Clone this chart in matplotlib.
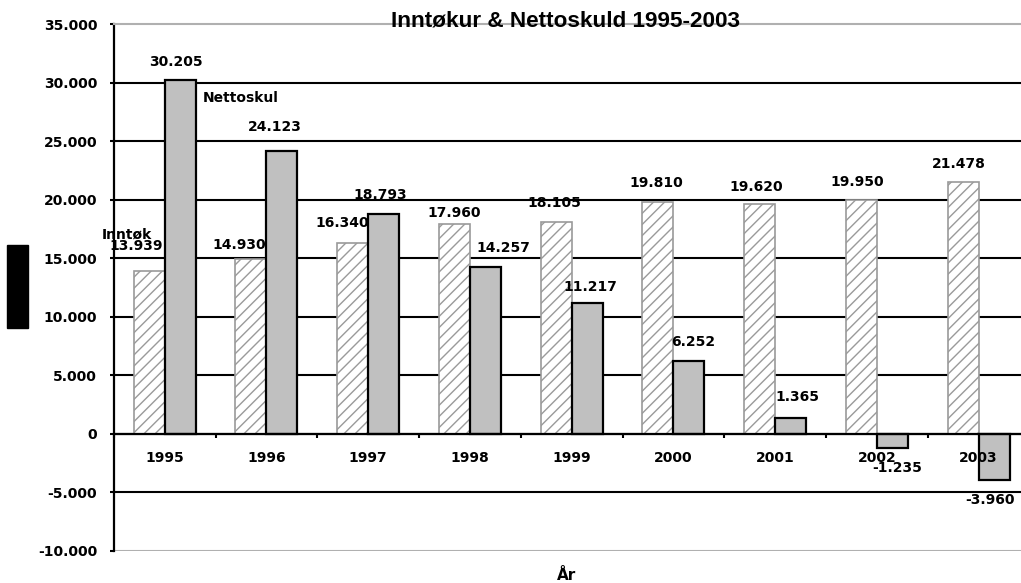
import numpy as np
import matplotlib
matplotlib.use('Agg')
import matplotlib.pyplot as plt
from matplotlib.patches import Rectangle

# Data
years = ['1995', '1996', '1997', '1998', '1999', '2000', '2001', '2002', '2003']
inntokur = [13939, 14930, 16340, 17960, 18105, 19810, 19620, 19950, 21478]
nettoskuld = [30205, 24123, 18793, 14257, 11217, 6252, 1365, -1235, -3960]
y_ticks = [-10000, -5000, 0, 5000, 10000, 15000, 20000, 25000, 30000, 35000]

# label offsets (pixels) from the end of each bar
inn_offsets = [(-13, 26), (-12, 16), (-10, 21), (0, 12), (-2, 20), (-2, 20), (-3, 19), (-4, 20), (-4, 20)]
net_offsets = [(-4, 20), (-7, 26), (-3, 20), (18, 20), (3, 17), (4, 20), (7, 22), (5, -18), (-4, -18)]


def fmt(v):
    return f"{v:,}".replace(',', '.')


W, H = 1021, 583
fig = plt.figure(figsize=(W / 100, H / 100), dpi=100)
# plot area runs a bit past the right edge of the picture, as in the original
left, right, top, bottom = 113.8, 1029.5, 24, 551
ax = fig.add_axes([left / W, (H - bottom) / H, (right - left) / W, (bottom - top) / H])

x = np.arange(len(years))
bw = 0.305
bars_inn = ax.bar(x - bw / 2, inntokur, bw, color='white', edgecolor='#9a9a9a',
                  hatch='///', linewidth=1.2, zorder=3)
bars_net = ax.bar(x + bw / 2, nettoskuld, bw, color='#c0c0c0', edgecolor='black',
                  linewidth=1.6, zorder=3)

ax.set_xlim(-0.5, len(years) - 0.5)
ax.set_ylim(-10000, 35000)

# gridlines
for t in y_ticks[1:-1]:
    ax.axhline(t, color='black', lw=1.5, zorder=1)
ax.axhline(-10000, color='#b0b0b0', lw=1.5, zorder=1)

# spines
ax.spines['right'].set_visible(False)
ax.spines['top'].set_color('#b0b0b0')
ax.spines['top'].set_linewidth(1.5)
ax.spines['left'].set_color('black')
ax.spines['left'].set_linewidth(1.6)
ax.spines['bottom'].set_position(('data', 0))
ax.spines['bottom'].set_linewidth(1.6)
ax.spines['bottom'].set_zorder(4)

# y axis
ax.set_yticks(y_ticks)
ax.set_yticklabels([fmt(t) for t in y_ticks], fontsize=10, fontweight='bold')
ax.tick_params(axis='y', length=3, width=1.5, pad=9)

# x axis: ticks between categories, labels at category centres
ax.set_xticks(np.arange(len(years) + 1) - 0.5)
ax.set_xticklabels([])
ax.tick_params(axis='x', which='major', length=3, width=1.5)
ax.set_xticks(x, minor=True)
ax.set_xticklabels(years, minor=True, fontsize=10, fontweight='bold')
ax.tick_params(axis='x', which='minor', length=0, pad=12)
ax.xaxis.set_zorder(5)  # year labels drawn over the negative bars

# value labels
for i in range(len(years)):
    dx, dy = inn_offsets[i]
    ax.annotate(fmt(inntokur[i]), xy=(x[i] - bw / 2, inntokur[i]), xytext=(dx, dy),
                textcoords='offset pixels', ha='center', va='center_baseline',
                fontsize=10, fontweight='bold', zorder=6)
    dx, dy = net_offsets[i]
    ax.annotate(fmt(nettoskuld[i]), xy=(x[i] + bw / 2, nettoskuld[i]), xytext=(dx, dy),
                textcoords='offset pixels', ha='center', va='center_baseline',
                fontsize=10, fontweight='bold', zorder=6)

# series names next to the first bars
ax.annotate('Nettoskul', xy=(x[0] + bw, nettoskuld[0]), xytext=(7, -16),
            textcoords='offset pixels', ha='left', va='center_baseline',
            fontsize=10, fontweight='bold', zorder=6)
ax.annotate('Inntøk', xy=(x[0] - bw / 2, inntokur[0]), xytext=(-22, 38),
            textcoords='offset pixels', ha='center', va='center_baseline',
            fontsize=10, fontweight='bold', zorder=6)

# title and axis label
fig.text(565 / W, 1 - 21 / H, 'Inntøkur & Nettoskuld 1995-2003', ha='center', va='center',
         fontsize=16.2, fontweight='bold', family='Liberation Sans')
fig.text(567 / W, 1 - 575 / H, 'År', ha='center', va='center', fontsize=11, fontweight='bold')

# black block where the y-axis title sits
fig.patches.append(Rectangle((7 / W, (H - 328) / H), 21 / W, 83 / H,
                             transform=fig.transFigure, color='black'))

plt.savefig('out.png', dpi=100)
